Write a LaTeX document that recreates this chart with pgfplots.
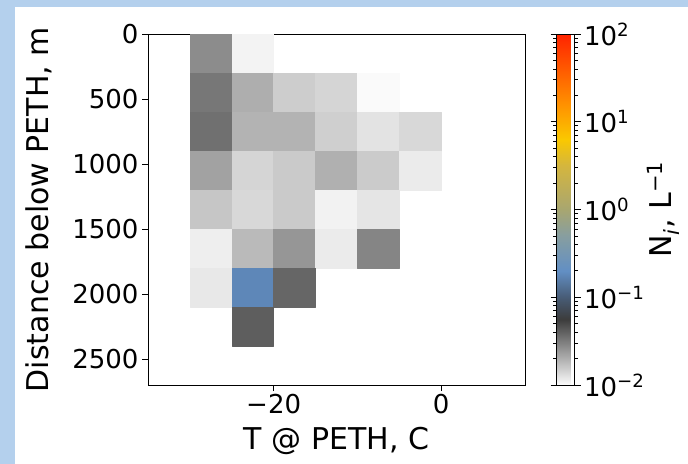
\documentclass[border=0pt]{standalone}
\usepackage{fontspec}
\setmainfont{DejaVu Sans}
\usepackage{pgfplots}
\pgfplotsset{compat=1.18}
\usepackage{pgfplotstable}
\definecolor{bgblue}{RGB}{180,208,237}

\pgfplotsset{
  colormap={pethmap}{rgb255(0mm)=(252,252,252) rgb255(75mm)=(60,60,60) rgb255(100mm)=(72,92,118) rgb255(130mm)=(98,143,196) rgb255(170mm)=(135,158,160) rgb255(200mm)=(168,166,112) rgb255(250mm)=(212,182,62) rgb255(280mm)=(250,200,0) rgb255(320mm)=(255,145,0) rgb255(400mm)=(255,35,0)}
}

% one cell per line: its four corners (T from x to x+5, depth from y to y+300), N in 1/L
\pgfplotstableread[row sep=\\]{
x y N\\
-30 0 0.0274\\ -25 0 0.0274\\ -25 300 0.0274\\ -30 300 0.0274\\
-25 0 0.0108\\ -20 0 0.0108\\ -20 300 0.0108\\ -25 300 0.0108\\
-30 300 0.0331\\ -25 300 0.0331\\ -25 600 0.0331\\ -30 600 0.0331\\
-25 300 0.0202\\ -20 300 0.0202\\ -20 600 0.0202\\ -25 600 0.0202\\
-20 300 0.0153\\ -15 300 0.0153\\ -15 600 0.0153\\ -20 600 0.0153\\
-15 300 0.0142\\ -10 300 0.0142\\ -10 600 0.0142\\ -15 600 0.0142\\
-10 300 0.0102\\ -5 300 0.0102\\ -5 600 0.0102\\ -10 600 0.0102\\
-30 600 0.0352\\ -25 600 0.0352\\ -25 900 0.0352\\ -30 900 0.0352\\
-25 600 0.0193\\ -20 600 0.0193\\ -20 900 0.0193\\ -25 900 0.0193\\
-20 600 0.0193\\ -15 600 0.0193\\ -15 900 0.0193\\ -20 900 0.0193\\
-15 600 0.0150\\ -10 600 0.0150\\ -10 900 0.0150\\ -15 900 0.0150\\
-10 600 0.0125\\ -5 600 0.0125\\ -5 900 0.0125\\ -10 900 0.0125\\
-5 600 0.0138\\ 0 600 0.0138\\ 0 900 0.0138\\ -5 900 0.0138\\
-30 900 0.0225\\ -25 900 0.0225\\ -25 1200 0.0225\\ -30 1200 0.0225\\
-25 900 0.0142\\ -20 900 0.0142\\ -20 1200 0.0142\\ -25 1200 0.0142\\
-20 900 0.0157\\ -15 900 0.0157\\ -15 1200 0.0157\\ -20 1200 0.0157\\
-15 900 0.0198\\ -10 900 0.0198\\ -10 1200 0.0198\\ -15 1200 0.0198\\
-10 900 0.0155\\ -5 900 0.0155\\ -5 1200 0.0155\\ -10 1200 0.0155\\
-5 900 0.0116\\ 0 900 0.0116\\ 0 1200 0.0116\\ -5 1200 0.0116\\
-30 1200 0.0163\\ -25 1200 0.0163\\ -25 1500 0.0163\\ -30 1500 0.0163\\
-25 1200 0.0138\\ -20 1200 0.0138\\ -20 1500 0.0138\\ -25 1500 0.0138\\
-20 1200 0.0157\\ -15 1200 0.0157\\ -15 1500 0.0157\\ -20 1500 0.0157\\
-15 1200 0.0109\\ -10 1200 0.0109\\ -10 1500 0.0109\\ -15 1500 0.0109\\
-10 1200 0.0123\\ -5 1200 0.0123\\ -5 1500 0.0123\\ -10 1500 0.0123\\
-30 1500 0.0113\\ -25 1500 0.0113\\ -25 1800 0.0113\\ -30 1800 0.0113\\
-25 1500 0.0181\\ -20 1500 0.0181\\ -20 1800 0.0181\\ -25 1800 0.0181\\
-20 1500 0.0250\\ -15 1500 0.0250\\ -15 1800 0.0250\\ -20 1800 0.0250\\
-15 1500 0.0116\\ -10 1500 0.0116\\ -10 1800 0.0116\\ -15 1800 0.0116\\
-10 1500 0.0292\\ -5 1500 0.0292\\ -5 1800 0.0292\\ -10 1800 0.0292\\
-30 1800 0.0120\\ -25 1800 0.0120\\ -25 2100 0.0120\\ -30 2100 0.0120\\
-25 1800 0.180\\ -20 1800 0.180\\ -20 2100 0.180\\ -25 2100 0.180\\
-20 1800 0.0385\\ -15 1800 0.0385\\ -15 2100 0.0385\\ -20 2100 0.0385\\
-25 2100 0.0414\\ -20 2100 0.0414\\ -20 2400 0.0414\\ -25 2400 0.0414\\
}\cells

\begin{document}
\begin{tikzpicture}
\useasboundingbox (0,0) rectangle (688bp,464bp);
\fill[bgblue] (0,0) rectangle (688bp,464bp);
\fill[white] (15bp,0) rectangle (688bp,457bp);
\begin{axis}[
  at={(148bp,79bp)}, anchor=south west,
  scale only axis, width=377bp, height=351bp,
  xmin=-35, xmax=10, ymin=0, ymax=2700, y dir=reverse,
  xtick={-20,0}, xticklabels={−20,0},
  ytick={0,500,1000,1500,2000,2500}, yticklabels={0,500,1000,1500,2000,2500},
  tick pos=left, tick align=outside, major tick length=6bp,
  tick style={black, line width=0.9bp},
  axis line style={line width=0.9bp},
  tick label style={font=\fontsize{26bp}{30bp}\selectfont},
  label style={font=\fontsize{30bp}{34bp}\selectfont},
  xlabel={T @ PETH, C}, ylabel={Distance below PETH, m},
  xlabel shift=6bp, ylabel shift=13bp,
  colormap name=pethmap,
  point meta min=-2, point meta max=2,
  colorbar,
  colorbar style={
    at={(parent axis.north east)}, anchor=north west, xshift=23bp,
    width=18bp,
    ytick={-2,-1,0,1,2},
    yticklabels={10\textsuperscript{−2},10\textsuperscript{−1},10\textsuperscript{0},10\textsuperscript{1},10\textsuperscript{2}},
    minor ytick={-1.69897,-1.52288,-1.39794,-1.30103,-1.22185,-1.15490,-1.09691,-1.04576,
                 -0.69897,-0.52288,-0.39794,-0.30103,-0.22185,-0.15490,-0.09691,-0.04576,
                 0.30103,0.47712,0.60206,0.69897,0.77815,0.84510,0.90309,0.95424,
                 1.30103,1.47712,1.60206,1.69897,1.77815,1.84510,1.90309,1.95424},
    tick align=outside, major tick length=6bp, minor tick length=3.5bp,
    tick style={black, line width=0.8bp},
    axis line style={line width=0.8bp},
    yticklabel style={font=\fontsize{26bp}{30bp}\selectfont},
    ylabel={N\textsubscript{\textit{i}}, L\textsuperscript{−1}},
    ylabel style={font=\fontsize{30bp}{34bp}\selectfont},
    ylabel shift=-4bp,
  },
]
\addplot[patch, patch type=rectangle, shader=flat, point meta={ln(\thisrow{N})/ln(10)}] table[x=x, y=y] {\cells};
\end{axis}
\end{tikzpicture}
\end{document}
